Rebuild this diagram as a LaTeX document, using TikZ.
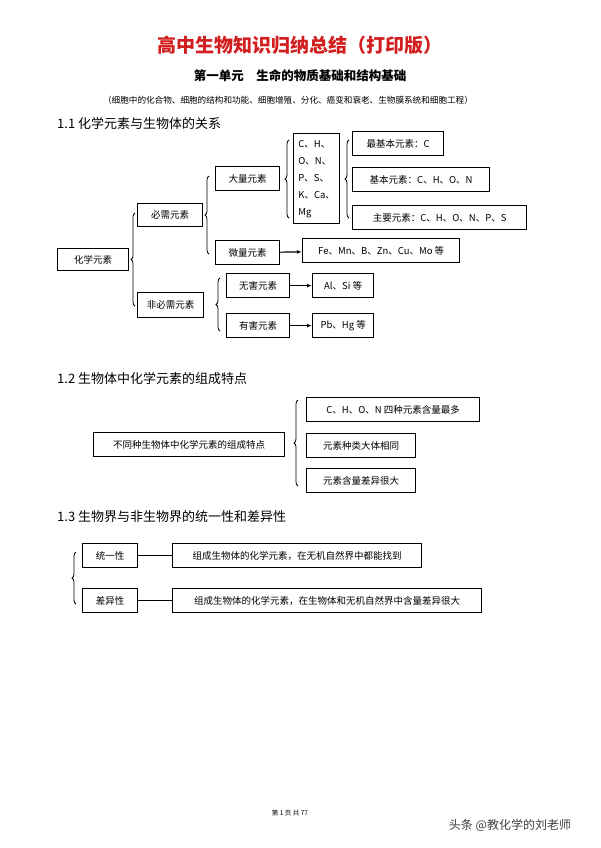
\documentclass[tikz,border=0pt]{standalone}
\usepackage{fontspec}
\setmainfont{Liberation Serif}
\newfontfamily\cjk{Noto Sans CJK SC}
\usetikzlibrary{decorations.pathreplacing,arrows.meta}
\definecolor{titlered}{RGB}{210,30,30}
\tikzset{
 bx/.style={draw,line width=1.3pt,anchor=north west,inner sep=0pt,font=\cjk\fontsize{9.5}{11}\selectfont,align=center},
 br/.style={decorate,decoration={brace,amplitude=4pt},line width=0.8pt},
 ar/.style={-{Latex[length=5pt]},line width=1.2pt},
 hd/.style={anchor=west,font=\cjk\fontsize{13}{15}\selectfont,inner sep=0pt}
}
\newcommand{\bxat}[6]{\node[bx,minimum width=#3pt,minimum height=#4pt] (#5) at (#1,#2) {#6};}
\begin{document}
\begin{tikzpicture}[x=1pt,y=-1pt]
\useasboundingbox[fill=white] (0,0) rectangle (600,848);
\node[font=\cjk\bfseries\fontsize{19}{22}\selectfont,text=titlered] (t) at (300,45) {高中生物知识归纳总结（打印版）};
\node[font=\cjk\bfseries\fontsize{12.5}{15}\selectfont] (t2) at (300,76) {第一单元\quad 生命的物质基础和结构基础};
\node[font=\cjk\fontsize{8.6}{10}\selectfont] (t3) at (288,100) {（细胞中的化合物、细胞的结构和功能、细胞增殖、分化、癌变和衰老、生物膜系统和细胞工程）};
\node[hd] (h1) at (57,124) {1.1 化学元素与生物体的关系};
% 1.1
\bxat{57}{248}{71}{22}{a}{化学元素}
\bxat{137}{203}{65}{23}{b}{必需元素}
\bxat{137}{292}{66}{25}{c}{非必需元素}
\bxat{215}{166}{64}{24}{d}{大量元素}
\bxat{215}{240}{64}{24}{e}{微量元素}
\bxat{302}{238}{157}{24}{f}{Fe、Mn、B、Zn、Cu、Mo 等}
\node[bx,minimum width=46pt,minimum height=90pt,align=left,font=\cjk\fontsize{9.5}{17}\selectfont] (g) at (293,133) {C、H、\\O、N、\\P、S、\\K、Ca、\\Mg};
\bxat{352}{131}{91}{24}{g1}{最基本元素：C}
\bxat{352}{167}{137}{24}{g2}{基本元素：C、H、O、N}
\bxat{352}{205}{174}{24}{g3}{主要元素：C、H、O、N、P、S}
\bxat{226}{273}{63}{24}{i}{无害元素}
\bxat{226}{313}{63}{24}{j}{有害元素}
\bxat{312}{273}{61}{24}{k}{Al、Si 等}
\bxat{312}{313}{61}{24}{l}{Pb、Hg 等}
\coordinate (b1a) at (135,306); \coordinate (b1b) at (135,213);
\draw[br] (b1a) -- (b1b);
\coordinate (b2a) at (209,254); \coordinate (b2b) at (209,176);
\draw[br] (b2a) -- (b2b);
\coordinate (b3a) at (289,218); \coordinate (b3b) at (289,140);
\draw[br] (b3a) -- (b3b);
\coordinate (b4a) at (349,218); \coordinate (b4b) at (349,140);
\draw[br] (b4a) -- (b4b);
\coordinate (b5a) at (220,331); \coordinate (b5b) at (220,278);
\draw[br] (b5a) -- (b5b);
\draw[ar] (e) -- (f);
\draw[ar] (i) -- (k);
\draw[ar] (j) -- (l);
% 1.2
\node[hd] (h2) at (57,379) {1.2 生物体中化学元素的组成特点};
\bxat{93}{432}{191}{24}{m}{不同种生物体中化学元素的组成特点}
\bxat{306}{397}{173}{24}{n1}{C、H、O、N 四种元素含量最多}
\bxat{306}{433}{109}{24}{n2}{元素种类大体相同}
\bxat{306}{468}{109}{24}{n3}{元素含量差异很大}
\coordinate (b6a) at (298,486); \coordinate (b6b) at (298,400);
\draw[br] (b6a) -- (b6b);
% 1.3
\node[hd] (h3) at (57,517) {1.3 生物界与非生物界的统一性和差异性};
\bxat{82}{543}{55}{24}{p}{统一性}
\bxat{82}{588}{55}{24}{q}{差异性}
\bxat{172}{543}{249}{24}{p2}{组成生物体的化学元素，在无机自然界中都能找到}
\bxat{172}{588}{309}{24}{q2}{组成生物体的化学元素，在生物体和无机自然界中含量差异很大}
\coordinate (b7a) at (76,604); \coordinate (b7b) at (76,552);
\draw[br] (b7a) -- (b7b);
\draw[line width=1.2pt] (p) -- (p2);
\draw[line width=1.2pt] (q) -- (q2);
% footer
\node[font=\cjk\fontsize{6.5}{7}\selectfont] (ft) at (290,813) {第 1 页 共 77};
\node[font=\cjk\fontsize{12}{14}\selectfont,text=black!75] (wm) at (510,825) {头条 @教化学的刘老师};
\end{tikzpicture}
\end{document}
